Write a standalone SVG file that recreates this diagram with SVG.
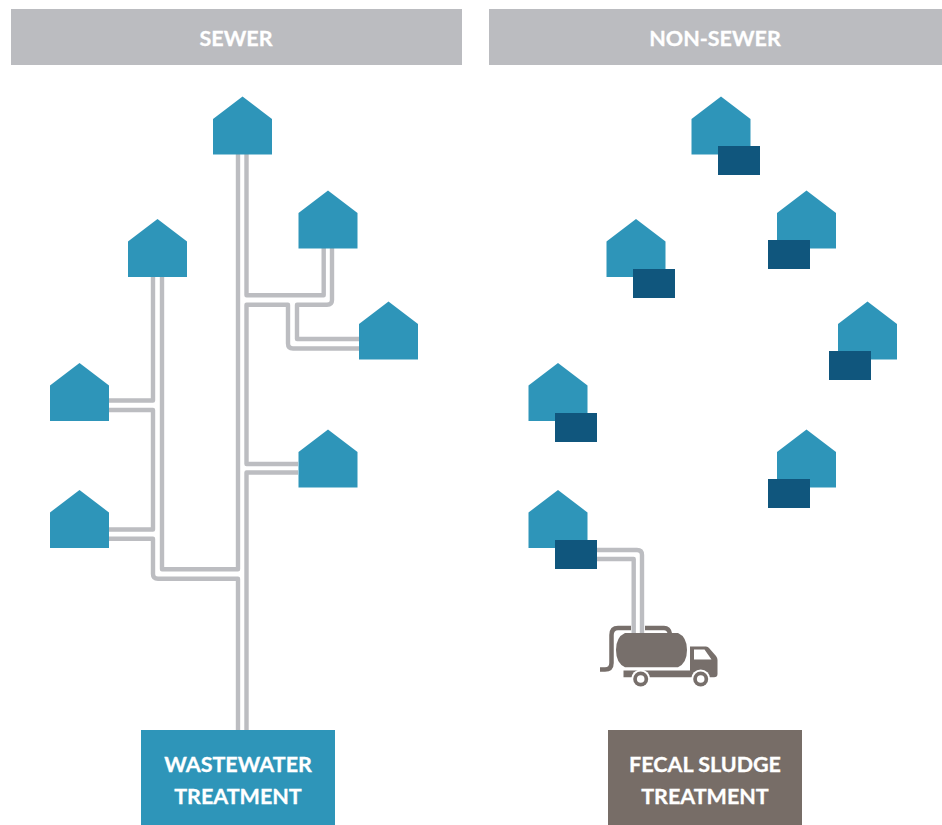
<svg xmlns="http://www.w3.org/2000/svg" xmlns:xlink="http://www.w3.org/1999/xlink" width="942" height="825" viewBox="0 0 942 825">
<style>
.hdr{fill:#bbbcc0}
.t{font-family:Lato,"Liberation Sans",sans-serif;font-weight:700;fill:#fff;text-anchor:middle;stroke:#fff;stroke-width:.3}
.h{font-size:21.500px}
.b{font-size:21.500px}
.pipe{fill:none;stroke:#bcbdc1;stroke-width:4.400;stroke-linejoin:round}
.house{fill:#2e95b9}
.tank{fill:#10567d}
.truck{fill:#776f6b}
.hose{fill:none;stroke:#776f6b;stroke-width:4.500}
</style>
<defs>
<path id="house" d="M0 22.500L29.500 0L59 22.500V58H0Z"/>
</defs>
<rect width="942" height="825" fill="#fff"/>
<g id="header-sewer"><rect class="hdr" x="11" y="9" width="451" height="56"/><text class="t h" x="236" y="45.500">SEWER</text></g>
<g id="header-non-sewer"><rect class="hdr" x="489" y="9" width="453" height="56"/><text class="t h" x="715" y="45.500">NON-SEWER</text></g>
<g id="connectors">
<path class="pipe" d="M238 154V569.300H162V276"/>
<path class="pipe" d="M153 276V400.500H109"/>
<path class="pipe" d="M109 410H153V529.500H109"/>
<path class="pipe" d="M109 538.700H153V574Q153 578.700 158 578.700H238V730"/>
<path class="pipe" d="M246.500 154V295.300H323.700V248"/>
<path class="pipe" d="M332 248V300Q332 304.700 327 304.700H297V339H360"/>
<path class="pipe" d="M360 348.500H293Q288 348.500 288 343.500V304.700H246.500V464H298"/>
<path class="pipe" d="M298 472.500H246.500V730"/>
<path class="pipe" d="M597 550H637Q642 550 642 555V634"/>
<path class="pipe" d="M597 559H633.700V634"/>
</g>
<g id="house-s1"><use xlink:href="#house" class="house" x="213" y="96.500"/></g>
<g id="house-s2"><use xlink:href="#house" class="house" x="298.500" y="190.500"/></g>
<g id="house-s3"><use xlink:href="#house" class="house" x="128" y="219"/></g>
<g id="house-s4"><use xlink:href="#house" class="house" x="359" y="301.500"/></g>
<g id="house-s5"><use xlink:href="#house" class="house" x="50" y="363"/></g>
<g id="house-s6"><use xlink:href="#house" class="house" x="298.500" y="429.500"/></g>
<g id="house-s7"><use xlink:href="#house" class="house" x="50" y="490"/></g>
<g id="house-n1"><use xlink:href="#house" class="house" x="691.500" y="96.500"/><rect class="tank" x="718" y="146" width="42" height="29"/></g>
<g id="house-n2"><use xlink:href="#house" class="house" x="777" y="190.500"/><rect class="tank" x="768" y="240" width="42" height="29"/></g>
<g id="house-n3"><use xlink:href="#house" class="house" x="606.500" y="219"/><rect class="tank" x="633" y="269" width="42" height="29"/></g>
<g id="house-n4"><use xlink:href="#house" class="house" x="838" y="301.500"/><rect class="tank" x="829" y="351" width="42" height="29"/></g>
<g id="house-n5"><use xlink:href="#house" class="house" x="528.500" y="363"/><rect class="tank" x="555" y="413" width="42" height="29"/></g>
<g id="house-n6"><use xlink:href="#house" class="house" x="777" y="429.500"/><rect class="tank" x="768" y="479" width="42" height="29"/></g>
<g id="house-n7"><use xlink:href="#house" class="house" x="528.500" y="490"/><rect class="tank" x="555" y="540" width="42" height="29"/></g>
<g id="truck">
<path class="hose" d="M600 669.500H605Q611.500 669.500 611.500 663V635Q611.500 628 618 628H631M645 628H664Q669 628 670 634"/>
<path class="truck" d="M625 633H678Q687 637 687 650Q687 663 678 667.300H625Q616 663 616 650Q616 637 625 633Z"/>
<path class="truck" fill-rule="evenodd" d="M690 646.500H706Q708 646.500 709 648L716 656Q717.500 658 717.500 660V674Q717.500 677.300 714 677.300H623.500V670.500H690ZM694 649.500V659.500H711.500L704.500 649.500Z"/>
<g><circle cx="640.700" cy="679" r="9.500" fill="#fff"/><circle cx="640.700" cy="679" r="7.500" class="truck"/><circle cx="640.700" cy="679" r="3.800" fill="#fff"/></g>
<g><circle cx="700.700" cy="679" r="9.500" fill="#fff"/><circle cx="700.700" cy="679" r="7.500" class="truck"/><circle cx="700.700" cy="679" r="3.800" fill="#fff"/></g>
</g>
<g id="wastewater"><rect x="141" y="730" width="194" height="95" fill="#2e95b9"/><text class="t b" x="238" y="772">WASTEWATER</text><text class="t b" x="238" y="804">TREATMENT</text></g>
<g id="fecal"><rect x="608" y="730" width="194" height="95" fill="#776d67"/><text class="t b" x="705" y="772">FECAL SLUDGE</text><text class="t b" x="705" y="804">TREATMENT</text></g>
</svg>
